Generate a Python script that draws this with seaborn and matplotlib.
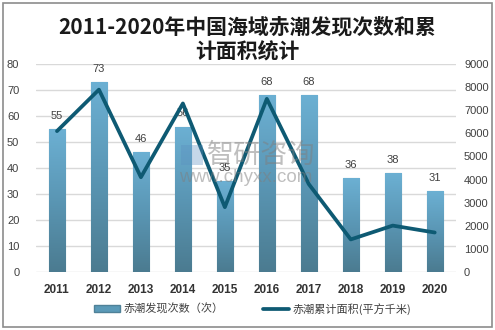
import numpy as np
import pandas as pd
import matplotlib
matplotlib.use("Agg")
import matplotlib.pyplot as plt
import seaborn as sns
from matplotlib.patches import Rectangle, Patch
from matplotlib.lines import Line2D
from matplotlib.colors import LinearSegmentedColormap

years = ["2011", "2012", "2013", "2014", "2015", "2016", "2017", "2018", "2019", "2020"]
counts = [55, 73, 46, 56, 35, 68, 68, 36, 38, 31]
areas = [6100, 7900, 4100, 7300, 2800, 7500, 3800, 1400, 2000, 1700]
title_lines = ["2011-2020年中国海域赤潮发现次数和累", "计面积统计"]
bar_label = "赤潮发现次数（次）"
line_label = "赤潮累计面积(平方千米)"

sns.set_theme(style="white")
plt.rcParams['font.family'] = ['Liberation Sans', 'Noto Sans CJK SC', 'DejaVu Sans']

fig = plt.figure(figsize=(4.95, 3.3), dpi=100)
ax = fig.add_axes([0.0727, 0.1767, 0.9206 - 0.0727, 0.8052 - 0.1767])

df = pd.DataFrame({"year": years, "count": counts, "area": areas})
sns.barplot(data=df, x="year", y="count", color="#5b9ab8", width=0.39,
            ax=ax, edgecolor="#4f8198", linewidth=0.8, zorder=2)

ax.set_ylim(0, 80)
ax.set_xlim(-0.5, 9.5)
ax.set_yticks(np.arange(0, 81, 10))
ax.grid(axis="y", color="#d9d9d9", linewidth=1, zorder=0)
ax.set_axisbelow(True)
for s in ax.spines.values():
    s.set_visible(False)
ax.set_xlabel("")
ax.set_ylabel("")
ax.tick_params(axis="y", length=0, labelsize=8, labelcolor="#404040", pad=12)
ax.tick_params(axis="x", length=0, labelsize=8.5, labelcolor="#333333", pad=9)
for t in ax.get_xticklabels():
    t.set_fontweight("bold")

# gradient fill of bars
cmap = LinearSegmentedColormap.from_list("g", ["#4b7b90", "#5a96b4", "#6cb0d3"])
grad = np.linspace(0, 1, 256).reshape(-1, 1)
for p in list(ax.patches):
    x0, y0 = p.get_x(), p.get_y()
    w, h = p.get_width(), p.get_height()
    im = ax.imshow(grad, cmap=cmap, origin="lower", aspect="auto",
                   extent=[x0, x0 + w, y0, y0 + h], zorder=2.1)
    im.set_clip_path(p)
ax.set_xlim(-0.5, 9.5)
ax.set_ylim(0, 80)

# data labels
for i, v in enumerate(counts):
    ax.text(i, v + 3.2, str(v), ha="center", va="bottom", fontsize=8,
            color="#404040", zorder=3)

ax2 = ax.twinx()
sns.lineplot(x=np.arange(len(years)), y=areas, ax=ax2, color="#0e5a73",
             linewidth=2.7, sort=False, zorder=5)
ax2.set_ylim(0, 9000)
ax2.set_yticks(np.arange(0, 9001, 1000))
ax2.set_xlim(-0.5, 9.5)
for s in ax2.spines.values():
    s.set_visible(False)
ax2.tick_params(axis="y", length=0, labelsize=8, labelcolor="#404040", pad=6)
ax2.grid(False)
ax2.set_ylabel("")

# watermark
fig.text(0.418, 0.53, "智研咨询", fontsize=19.5, color="#7f7f7f", alpha=0.5,
         ha="left", va="center", family=["Noto Sans CJK SC"])
fig.text(0.362, 0.462, "www.chyxx.com", fontsize=13.5, color="#7f7f7f", alpha=0.5,
         ha="left", va="center")
fig.patches.append(Rectangle((0.365, 0.50), 0.045, 0.06, transform=fig.transFigure,
                             facecolor="#5b8fc0", alpha=0.35, edgecolor="none"))

# title
fig.text(0.5, 0.918, title_lines[0], ha="center", va="center", fontsize=15,
         fontweight="bold", color="#1a1a1a", family=["Noto Sans CJK SC", "DejaVu Sans"])
fig.text(0.5, 0.842, title_lines[1], ha="center", va="center", fontsize=15,
         fontweight="bold", color="#1a1a1a", family=["Noto Sans CJK SC", "DejaVu Sans"])

handles = [Patch(facecolor="#5b9ab8", edgecolor="#4f8198"),
           Line2D([0], [0], color="#0e5a73", linewidth=2.7)]
fig.legend(handles, [bar_label, line_label], loc="center", bbox_to_anchor=(0.51, 0.064),
           ncol=2, frameon=False, fontsize=8, labelcolor="#404040",
           handlelength=2.4, handleheight=0.6, columnspacing=3.5, handletextpad=0.3,
           prop={"family": ["Noto Sans CJK SC"], "size": 8})

# outer border
fig.patches.append(Rectangle((0.006, 0.009), 0.988, 0.982, transform=fig.transFigure,
                             facecolor="none", edgecolor="#8c8c8c", linewidth=1.2))

fig.savefig("out.png", dpi=100)
